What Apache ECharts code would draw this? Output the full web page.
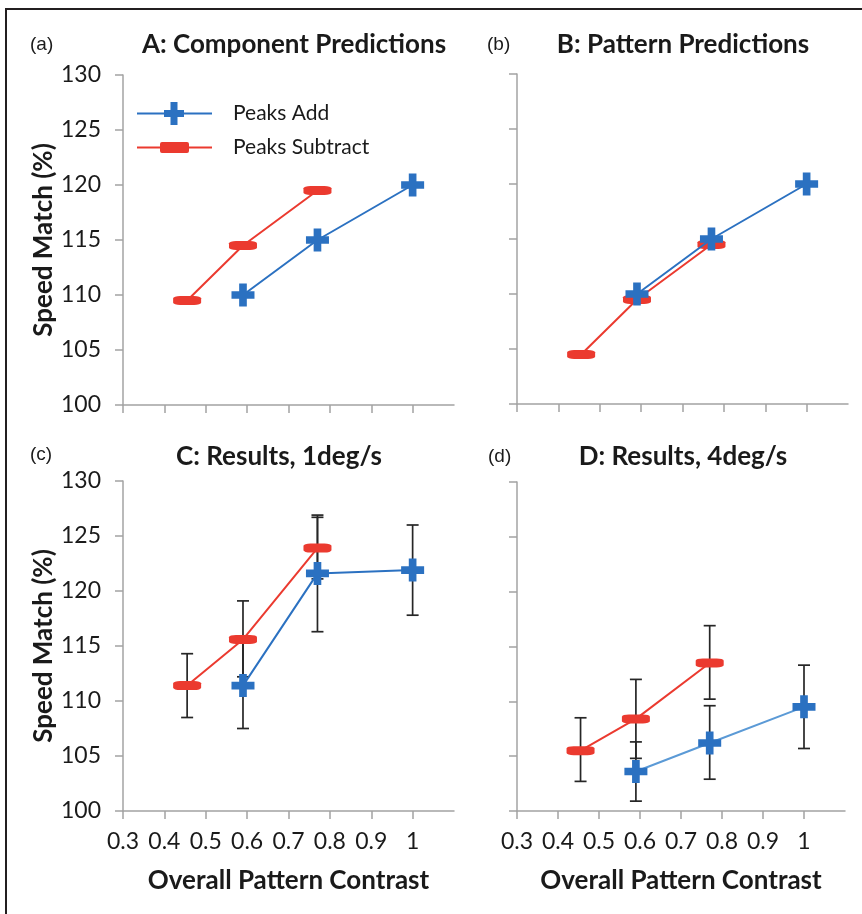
<!DOCTYPE html>
<html><head><meta charset="utf-8">
<script src="https://cdn.jsdelivr.net/npm/echarts@6/dist/echarts.min.js"></script>
<style>html,body{margin:0;padding:0;background:#fff}#c{width:862px;height:914px}</style>
</head><body><div id="c"></div>
<script>
// ---- data ----
const contrastAdd = [0.59, 0.77, 1.0];
const contrastSub = [0.455, 0.59, 0.77];
const yTicks = [100, 105, 110, 115, 120, 125, 130];
const xTicks = [0.3, 0.4, 0.5, 0.6, 0.7, 0.8, 0.9, 1.0];
const panelTitles = ['A: Component Predictions', 'B: Pattern Predictions', 'C: Results, 1deg/s', 'D: Results, 4deg/s'];
const panelLetters = ['(a)', '(b)', '(c)', '(d)'];
const seriesNames = ['Peaks Add', 'Peaks Subtract'];
// Panel A
const addA = [110, 115, 120];
const subA = [109.5, 114.5, 119.5];
// Panel B
const addB = [110, 115, 120];
const subB = [104.5, 109.5, 114.5];
// Panel C (mean, low, high)
const addC = [111.4, 121.6, 121.9];
const addCLow = [107.5, 116.3, 117.8];
const addCHigh = [115.3, 126.9, 126.0];
const subC = [111.4, 115.6, 123.9];
const subCLow = [108.5, 112.2, 121.1];
const subCHigh = [114.3, 119.1, 126.7];
// Panel D
const addD = [103.6, 106.2, 109.5];
const addDLow = [100.9, 102.9, 105.7];
const addDHigh = [106.3, 109.6, 113.3];
const subD = [105.5, 108.4, 113.5];
const subDLow = [102.7, 104.8, 110.2];
const subDHigh = [108.5, 112.0, 116.9];

// ---- styles ----
const BLUE = '#2b71c1', BLUE_D = '#5b9ad6', RED = '#eb3a2f', AXIS = '#a3a3a3', TXT = '#1a1a1a';
const FONT = 'Lato, "Open Sans", sans-serif';
const plusSym = 'path://M1,0H2V1H3V2H2V3H1V2H0V1H1Z';
const grids = [
  {left: 123, top: 75, width: 331, height: 330},
  {left: 517, top: 74, width: 331, height: 330},
  {left: 123, top: 481, width: 331, height: 330},
  {left: 517, top: 482, width: 328, height: 329}
];

const xAxes = grids.map((g, i) => ({
  type: 'value', gridIndex: i, min: 0.3, max: 1.1, interval: 0.1,
  name: i >= 2 ? 'Overall Pattern Contrast' : '', nameLocation: 'middle', nameGap: 57,
  nameTextStyle: {fontFamily: FONT, fontWeight: 'bold', fontSize: 26, color: TXT},
  axisLine: {show: true, lineStyle: {color: AXIS, width: 1.5}},
  axisTick: {show: true, length: 8, inside: false, lineStyle: {color: AXIS, width: 1.5}, customValues: xTicks},
  axisLabel: {show: i >= 2, margin: 19, fontFamily: FONT, fontSize: 23, color: TXT, customValues: xTicks,
    formatter: v => String(Math.round(v * 10) / 10)},
  splitLine: {show: false}
}));
const yAxes = grids.map((g, i) => ({
  type: 'value', gridIndex: i, min: 100, max: 130, interval: 5,
  name: i % 2 === 0 ? 'Speed Match (%)' : '', nameLocation: 'middle', nameGap: 64,
  nameTextStyle: {fontFamily: FONT, fontWeight: 'bold', fontSize: 26, color: TXT},
  axisLine: {show: true, lineStyle: {color: AXIS, width: 1.5}},
  axisTick: {show: true, length: 8, lineStyle: {color: AXIS, width: 1.5}},
  axisLabel: {show: i % 2 === 0, margin: 22, fontFamily: FONT, fontSize: 23, color: TXT},
  splitLine: {show: false}
}));

function pts(xs, ys) { return xs.map((x, k) => [x, ys[k]]); }
function errPts(xs, lo, hi) { return xs.map((x, k) => [x, lo[k], hi[k]]); }

function errRender(params, api) {
  const x = api.value(0), lo = api.value(1), hi = api.value(2);
  const a = api.coord([x, lo]), b = api.coord([x, hi]);
  const w = 6, st = {stroke: '#262626', lineWidth: 1.7};
  return {type: 'group', children: [
    {type: 'line', shape: {x1: a[0], y1: a[1], x2: b[0], y2: b[1]}, style: st},
    {type: 'line', shape: {x1: a[0] - w, y1: a[1], x2: a[0] + w, y2: a[1]}, style: st},
    {type: 'line', shape: {x1: b[0] - w, y1: b[1], x2: b[0] + w, y2: b[1]}, style: st}
  ]};
}

function addSeries(i, ys, lineColor) {
  return {name: seriesNames[0], type: 'line', xAxisIndex: i, yAxisIndex: i, data: pts(contrastAdd, ys),
    symbol: plusSym, symbolSize: [23, 23], color: BLUE, z: 4,
    lineStyle: {color: lineColor || BLUE, width: 2}, itemStyle: {color: BLUE}};
}
function subSeries(i, ys) {
  return {name: seriesNames[1], type: 'line', xAxisIndex: i, yAxisIndex: i, data: pts(contrastSub, ys),
    symbol: 'roundRect', symbolSize: [28, 9], color: RED, z: 3,
    lineStyle: {color: RED, width: 2}, itemStyle: {color: RED}};
}
function errSeries(i, xs, lo, hi) {
  return {type: 'custom', name: 'err', xAxisIndex: i, yAxisIndex: i, renderItem: errRender,
    data: errPts(xs, lo, hi), encode: {x: 0, y: [1, 2]}, z: 1, silent: true};
}

const series = [
  subSeries(0, subA), addSeries(0, addA),
  subSeries(1, subB), addSeries(1, addB),
  errSeries(2, contrastSub, subCLow, subCHigh), errSeries(2, contrastAdd, addCLow, addCHigh),
  subSeries(2, subC), addSeries(2, addC),
  errSeries(3, contrastSub, subDLow, subDHigh), errSeries(3, contrastAdd, addDLow, addDHigh),
  subSeries(3, subD), addSeries(3, addD, BLUE_D)
];

const titlePos = [[294, 45], [683, 45], [279, 457], [683, 457]];
const letterPos = [[30, 45], [487, 45], [30, 455], [488, 457]];
const graphics = [
  {type: 'polyline', shape: {points: [[6, 914], [6, 9], [862, 9]]}, style: {stroke: '#231f20', lineWidth: 2, fill: null}}
];
panelTitles.forEach((t, i) => graphics.push({type: 'text', x: titlePos[i][0], y: titlePos[i][1],
  style: {text: t, fontFamily: FONT, fontWeight: 'bold', fontSize: 26, fill: TXT, align: 'center', verticalAlign: 'middle'}}));
panelLetters.forEach((t, i) => graphics.push({type: 'text', x: letterPos[i][0], y: letterPos[i][1],
  style: {text: t, fontFamily: '"Liberation Sans", Arial, sans-serif', fontSize: 19, fill: TXT, align: 'left', verticalAlign: 'middle'}}));

const legendAddIcon = 'path://M0,10.5H27V8H33.5V0H40.5V8H47V10.5H75V12.5H47V15H40.5V23H33.5V15H27V12.5H0Z';
const legendSubIcon = 'path://M0,4.5H23V2Q23,0 25,0H50Q52,0 52,2V4.5H75V6.5H52V9Q52,11 50,11H25Q23,11 23,9V6.5H0Z';

const option = {
  animation: false,
  backgroundColor: '#fff',
  grid: grids,
  xAxis: xAxes,
  yAxis: yAxes,
  legend: {
    orient: 'vertical', left: 132, top: 97, itemWidth: 75, itemHeight: 23, itemGap: 12,
    data: [{name: seriesNames[0], icon: legendAddIcon}, {name: seriesNames[1], icon: legendSubIcon}],
    textStyle: {fontFamily: FONT, fontSize: 21, color: TXT, padding: [0, 0, 0, 16]}
  },
  series: series,
  graphic: graphics
};
const chart = echarts.init(document.getElementById('c'), null, {renderer: 'canvas'});
chart.setOption(option);
</script></body></html>
